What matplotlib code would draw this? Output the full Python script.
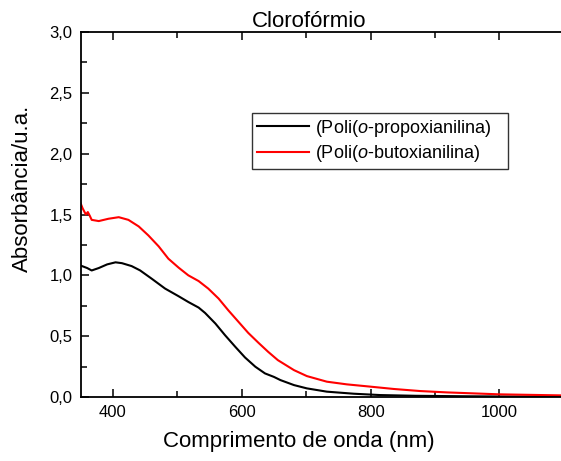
import matplotlib
matplotlib.use("Agg")
import matplotlib.pyplot as plt
from matplotlib.ticker import MultipleLocator, FuncFormatter

plt.rcParams['font.family'] = ['Liberation Sans', 'DejaVu Sans']
plt.rcParams['mathtext.fontset'] = 'custom'
plt.rcParams['mathtext.rm'] = 'Liberation Sans'
plt.rcParams['mathtext.it'] = 'Liberation Sans:italic'

# Data
prop_x = [350, 355, 360, 367, 378, 391, 404, 414, 429, 442, 460, 481, 502, 517, 533,
          543, 559, 574, 590, 605, 621, 636, 650, 660, 681, 701, 732, 774, 815, 870,
          950, 1020, 1100]
prop_y = [1.08, 1.07, 1.06, 1.04, 1.06, 1.09, 1.107, 1.10, 1.076, 1.041, 0.973, 0.891,
          0.828, 0.781, 0.735, 0.691, 0.604, 0.508, 0.412, 0.325, 0.249, 0.194, 0.165,
          0.139, 0.098, 0.071, 0.044, 0.027, 0.016, 0.010, 0.006, 0.004, 0.003]

but_x = [350, 353, 356, 358, 361, 364, 367, 378, 393, 409, 424, 440, 455, 471, 486,
         502, 517, 533, 548, 564, 579, 595, 610, 626, 641, 656, 681, 701, 732, 763,
         800, 836, 877, 918, 1000, 1100]
but_y = [1.59, 1.55, 1.52, 1.50, 1.52, 1.49, 1.456, 1.446, 1.465, 1.478, 1.456, 1.402,
         1.328, 1.238, 1.137, 1.063, 1.0, 0.953, 0.891, 0.809, 0.713, 0.617, 0.527,
         0.445, 0.371, 0.303, 0.221, 0.172, 0.126, 0.104, 0.085, 0.066, 0.049, 0.038,
         0.022, 0.013]

labels = [r'(Poli($\mathit{o}$-propoxianilina)', r'(Poli($\mathit{o}$-butoxianilina)']
title = 'Clorofórmio'
xlabel = 'Comprimento de onda (nm)'
ylabel = 'Absorbância/u.a.'

fig = plt.figure(figsize=(5.61, 4.61), dpi=100)
ax = fig.add_axes([0.1439, 0.1388, 0.8613, 0.7918])

ax.plot(prop_x, prop_y, color='black', lw=1.5, label=labels[0])
ax.plot(but_x, but_y, color='#ff0000', lw=1.5, label=labels[1])

ax.set_xlim(350, 1100)
ax.set_ylim(0, 3.0)
ax.xaxis.set_major_locator(MultipleLocator(200))
ax.xaxis.set_minor_locator(MultipleLocator(100))
ax.yaxis.set_major_locator(MultipleLocator(0.5))
ax.yaxis.set_minor_locator(MultipleLocator(0.25))
ax.yaxis.set_major_formatter(FuncFormatter(lambda v, p: f'{v:.1f}'.replace('.', ',')))

for s in ax.spines.values():
    s.set_linewidth(1.3)
ax.spines['right'].set_visible(False)

ax.tick_params(which='both', direction='in', top=True, right=False, width=1.1, labelsize=12)
ax.tick_params(which='major', length=6)
ax.tick_params(which='minor', length=4)
ax.tick_params(axis='y', which='major', pad=6)
ax.tick_params(axis='x', which='major', pad=6)

leg = ax.legend(loc='upper left', bbox_to_anchor=(0.3545, 0.5, 0.5298, 0.278),
                mode='expand', borderaxespad=0,
                fontsize=13, frameon=True, fancybox=False, edgecolor='black',
                handlelength=2.9, handletextpad=0.35, borderpad=0.25, labelspacing=0.25)
leg.get_frame().set_linewidth(1.0)

fig.text(0.5517, 0.9414, title, ha='center', va='baseline', fontsize=16)
fig.text(0.532, 0.0304, xlabel, ha='center', va='baseline', fontsize=16)
fig.text(0.040, 0.592, ylabel, ha='center', va='center', rotation=90, fontsize=16)

fig.savefig('out.png', dpi=100)
